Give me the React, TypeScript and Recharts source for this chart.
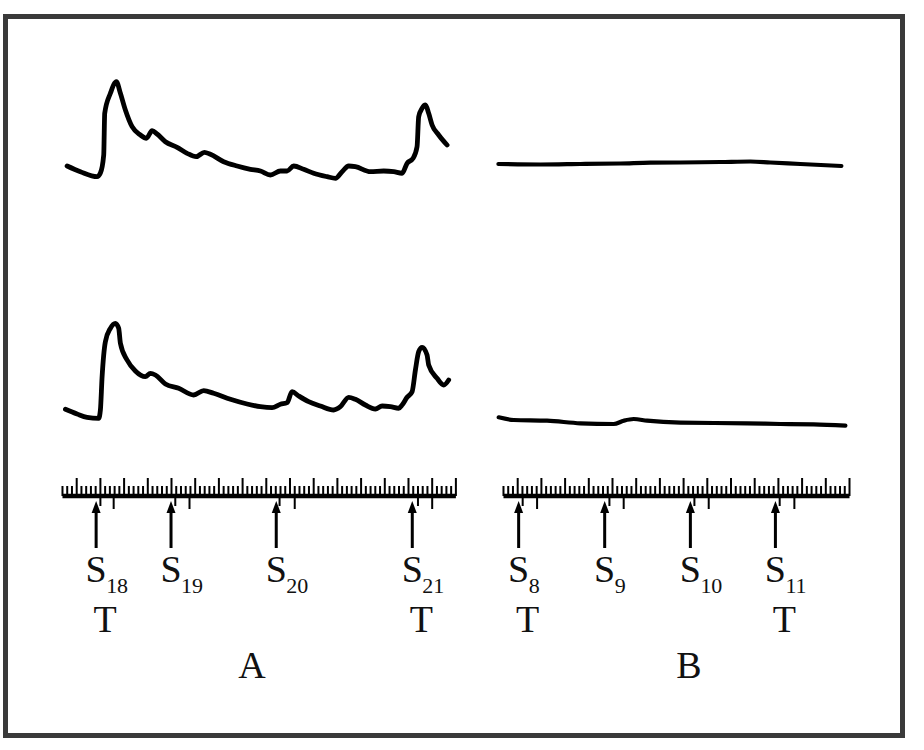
import React from "react";
import {
  LineChart,
  Line,
  ComposedChart,
  Scatter,
  XAxis,
  YAxis,
  ReferenceLine,
} from "recharts";

// recorded traces, [time in ruler units, deflection]
const traceATop: [number, number][] = [
  [2.97, 1.4], [5.78, 0.83], [9.3, 0.33], [10.0, 0.7], [10.7, 2.5], [10.91, 6.67],
  [12.11, 8.67], [13.38, 9.83], [14.22, 8.67], [15.27, 7.0], [16.69, 5.33], [18.44, 4.5],
  [19.7, 4.17], [20.91, 4.93], [21.96, 4.6], [23.71, 3.83], [26.18, 3.27], [28.29, 2.67],
  [30.19, 2.33], [31.94, 2.77], [33.21, 2.57], [36.01, 1.83], [38.84, 1.4], [41.65, 1.07],
  [43.76, 0.9], [45.86, 0.5], [47.97, 0.9], [49.39, 0.9], [50.78, 1.4], [52.89, 1.07],
  [55.0, 0.67], [57.83, 0.33], [59.58, 0.17], [60.99, 0.83], [62.38, 1.4], [63.8, 1.33],
  [66.96, 0.83], [69.77, 0.9], [71.88, 0.83], [73.65, 0.67], [74.7, 1.67], [75.97, 2.17],
  [76.81, 3.33], [77.15, 6.33], [77.87, 7.17], [78.57, 7.5], [79.26, 6.67], [79.98, 5.5],
  [81.37, 4.5], [83.14, 3.5],
];

const traceABottom: [number, number][] = [
  [2.62, 1.07], [5.08, 0.6], [7.19, 0.27], [9.64, 0.17], [10.0, 1.0], [10.36, 4.33],
  [11.05, 7.83], [12.11, 9.17], [13.16, 9.67], [13.86, 9.17], [14.22, 7.67], [15.63, 6.0],
  [17.38, 4.9], [19.49, 4.33], [20.55, 4.67], [21.6, 4.5], [23.71, 3.6], [26.52, 3.17],
  [29.68, 2.5], [31.79, 2.93], [33.9, 2.67], [37.43, 2.07], [40.95, 1.6], [43.75, 1.33],
  [46.22, 1.23], [47.97, 1.57], [49.39, 1.73], [50.44, 2.83], [51.84, 2.4], [53.94, 1.83],
  [56.41, 1.4], [59.22, 1.0], [60.63, 1.33], [62.38, 2.27], [63.8, 2.07], [65.91, 1.5],
  [68.02, 1.1], [69.43, 1.4], [71.18, 1.33], [72.93, 1.17], [73.65, 1.5], [74.7, 2.27],
  [75.76, 2.83], [76.46, 5.0], [77.15, 6.83], [77.87, 7.27], [78.92, 6.5], [79.26, 5.5],
  [81.03, 4.17], [82.43, 3.5], [83.48, 4.0],
];

const traceBTop: [number, number][] = [
  [0.93, 1.6], [9.79, 1.55], [18.23, 1.6], [26.67, 1.65], [33.0, 1.73], [39.33, 1.75],
  [47.76, 1.8], [54.09, 1.85], [58.31, 1.75], [64.64, 1.6], [73.29, 1.4],
];

const traceBBottom: [number, number][] = [
  [0.99, 0.27], [4.16, 0.0], [11.2, -0.07], [18.23, -0.33], [25.25, -0.4], [27.36, -0.07],
  [29.47, 0.1], [32.3, -0.07], [39.33, -0.27], [53.4, -0.33], [60.44, -0.4], [67.45, -0.43],
  [74.13, -0.57],
];

// stimuli: time, subscript, marked with T
const stimA = [
  { t: 9.1, n: "18", test: true },
  { t: 24.9, n: "19", test: false },
  { t: 47.1, n: "20", test: false },
  { t: 75.8, n: "21", test: true },
];
const stimB = [
  { t: 5.2, n: "8", test: true },
  { t: 23.35, n: "9", test: false },
  { t: 41.43, n: "10", test: false },
  { t: 59.37, n: "11", test: true },
];

// signal marks under the time line
const marksA = [10, 12.8, 25.8, 28.8, 47.8, 51, 77, 80];
const marksB = [6.05, 9.09, 24.35, 27.36, 42.28, 45.3, 60.27, 63.37];

const rulerA = { from: 2, to: 85 };
const rulerB = { from: 2, to: 75 };

const UNIT = 4.74;
const PAD = 10;
const RULER_Y = 495.5;
const FONT = '"Liberation Serif", "DejaVu Serif", serif';

const range = (a: number, b: number) =>
  Array.from({ length: b - a + 1 }, (_, i) => a + i);

const toRows = (pts: [number, number][]) => pts.map(([t, v]) => ({ t, v }));

const Trace = ({ pts, x0, span, top, w }: any) => (
  <div style={{ position: "absolute", left: x0 - PAD, top }}>
    <LineChart
      width={span * UNIT + 2 * PAD}
      height={140}
      data={toRows(pts)}
      margin={{ top: 10, right: PAD, bottom: 10, left: PAD }}
    >
      <XAxis type="number" dataKey="t" domain={[0, span]} hide />
      <YAxis type="number" domain={[-1, 11]} hide />
      <Line
        type="monotone"
        dataKey="v"
        stroke="#000"
        strokeWidth={w}
        strokeLinecap="round"
        strokeLinejoin="round"
        dot={false}
        isAnimationActive={false}
      />
    </LineChart>
  </div>
);

const TickShape = (p: any) => {
  const len = p.payload.t % 5 === 0 ? 18 : 10;
  return <rect x={p.cx - 1} y={p.cy - len} width={2} height={len} fill="#000" />;
};

const MarkShape = (p: any) => {
  const len = p.payload.i % 2 === 0 ? 10 : 13;
  return <rect x={p.cx - 1} y={p.cy} width={2} height={len} fill="#000" />;
};

const StimShape = (p: any) => {
  const { cx, cy, payload } = p;
  return (
    <g fontFamily={FONT} fill="#111">
      <polygon
        points={`${cx},${cy + 5} ${cx - 4.5},${cy + 17} ${cx + 4.5},${cy + 17}`}
        fill="#000"
      />
      <rect x={cx - 1.5} y={cy + 14} width={3} height={38} fill="#000" />
      <text x={cx} y={cy + 86} textAnchor="middle" fontSize={38}>
        S
      </text>
      <text x={cx + 10} y={cy + 97} fontSize={22}>
        {payload.n}
      </text>
      {payload.test && (
        <text x={cx + 9} y={cy + 136} textAnchor="middle" fontSize={38}>
          T
        </text>
      )}
    </g>
  );
};

const Ruler = ({ x0, span, ruler, stims, marks }: any) => (
  <div style={{ position: "absolute", left: x0 - PAD, top: RULER_Y - 34 }}>
    <ComposedChart
      width={span * UNIT + 2 * PAD}
      height={184}
      margin={{ top: 4, right: PAD, bottom: 150, left: PAD }}
    >
      <XAxis type="number" dataKey="t" domain={[0, span]} hide />
      <YAxis type="number" dataKey="y" domain={[0, 1]} hide />
      <ReferenceLine
        segment={[
          { x: ruler.from, y: 0 },
          { x: ruler.to, y: 0 },
        ]}
        stroke="#000"
        strokeWidth={4.4}
        ifOverflow="visible"
      />
      <Scatter
        data={range(ruler.from, ruler.to).map((t) => ({ t, y: 0 }))}
        shape={TickShape}
        isAnimationActive={false}
      />
      <Scatter
        data={marks.map((t: number, i: number) => ({ t, y: 0, i }))}
        shape={MarkShape}
        isAnimationActive={false}
      />
      <Scatter
        data={stims.map((s: any) => ({ ...s, y: 0 }))}
        shape={StimShape}
        isAnimationActive={false}
      />
    </ComposedChart>
  </div>
);

export default function App() {
  const aX0 = 52.6;
  const bX0 = 493.6;
  return (
    <div
      style={{
        position: "absolute",
        left: 0,
        top: 0,
        width: 924,
        height: 750,
        background: "#fff",
        fontFamily: FONT,
      }}
    >
      <div
        style={{
          position: "absolute",
          left: 3,
          top: 14,
          width: 902,
          height: 724,
          border: "5px solid #3a3a3a",
          boxSizing: "border-box",
        }}
      />
      <Trace pts={traceATop} x0={aX0} span={86} top={60} w={4.8} />
      <Trace pts={traceABottom} x0={aX0} span={86} top={300} w={4.8} />
      <Trace pts={traceBTop} x0={bX0} span={78} top={60} w={4.2} />
      <Trace pts={traceBBottom} x0={bX0} span={78} top={300} w={4.2} />
      <Ruler x0={aX0} span={86} ruler={rulerA} stims={stimA} marks={marksA} />
      <Ruler x0={bX0} span={78} ruler={rulerB} stims={stimB} marks={marksB} />
      <svg
        width={924}
        height={750}
        style={{ position: "absolute", left: 0, top: 0, pointerEvents: "none" }}
      >
        <text x={252} y={678} textAnchor="middle" fontSize={38} fontFamily={FONT} fill="#111">
          A
        </text>
        <text x={689} y={678} textAnchor="middle" fontSize={38} fontFamily={FONT} fill="#111">
          B
        </text>
      </svg>
    </div>
  );
}
